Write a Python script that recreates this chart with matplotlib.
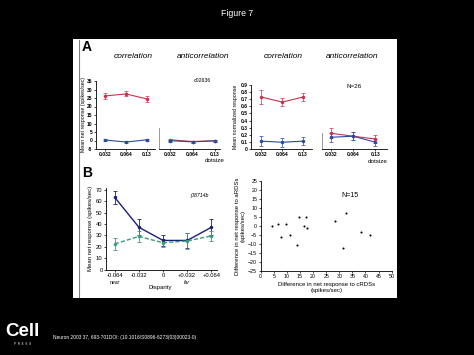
import matplotlib
matplotlib.use("Agg")
import matplotlib.pyplot as plt
from matplotlib.patches import Rectangle

plt.rcParams['font.family'] = ['Liberation Sans', 'DejaVu Sans']

W, H = 474, 355

# ---- data ----
dotsizes = ["0.032", "0.064", "0.13"]
# Panel A, single cell (c02636): mean net response (spikes/sec)
a_corr_red = [26.2, 27.4, 24.4]
a_corr_red_err = [2.0, 1.5, 1.8]
a_corr_blue = [0.3, -0.9, 0.4]
a_corr_blue_err = [0.5, 0.5, 0.5]
a_anti_red = [0.4, -0.6, -0.1]
a_anti_red_err = [0.7, 0.6, 0.5]
a_anti_blue = [-0.1, -0.8, -0.2]
a_anti_blue_err = [0.6, 0.6, 0.5]
# Panel A, population (N=26): mean normalized response
n_corr_red = [0.73, 0.66, 0.73]
n_corr_red_err = [0.10, 0.06, 0.06]
n_corr_blue = [0.11, 0.095, 0.11]
n_corr_blue_err = [0.07, 0.06, 0.06]
n_anti_red = [0.22, 0.18, 0.14]
n_anti_red_err = [0.07, 0.06, 0.05]
n_anti_blue = [0.165, 0.18, 0.095]
n_anti_blue_err = [0.06, 0.06, 0.05]
# Panel B left: disparity tuning (j08714b)
disparity = [-0.064, -0.032, 0.0, 0.032, 0.064]
disp_labels = ["-0.064", "-0.032", "0", "+0.032", "+0.064"]
b_corr = [63.2, 37.0, 25.5, 25.5, 37.0]
b_corr_err = [5.5, 7.0, 4.5, 6.5, 7.0]
b_anti = [22.5, 29.0, 23.5, 25.0, 29.5]
b_anti_err = [5.5, 4.5, 3.5, 7.0, 4.5]
# Panel B right: scatter (N=15)
diff_c = [4.2, 6.6, 7.6, 9.7, 11.1, 14.0, 14.5, 16.4, 17.4, 17.7, 28.5, 31.4, 32.6, 38.2, 41.7]
diff_a = [0.2, 0.9, -5.9, 1.1, -4.8, -10.6, 5.0, 0.2, 5.0, -1.1, 3.0, -12.4, 7.2, -3.3, -5.0]

RED = "#c8324e"
BLUE = "#2a4a9a"
NAVY = "#1c1f78"
GREEN = "#3a9a7c"
TICKFS = 3.6

fig = plt.figure(figsize=(W / 100, H / 100), dpi=100, facecolor="black")


def ax_px(x0, y0, x1, y1):
    return fig.add_axes([x0 / W, 1 - y1 / H, (x1 - x0) / W, (y1 - y0) / H])


def fig_text(x, y, s, **kw):
    fig.text(x / W, 1 - y / H, s, **kw)


# white panel (drawn in a background axes)
bg = fig.add_axes([0, 0, 1, 1], zorder=-10)
bg.set_xlim(0, W)
bg.set_ylim(H, 0)
bg.axis("off")
bg.add_patch(Rectangle((73, 39), 397 - 73, 298 - 39, facecolor="white", edgecolor="none"))
bg.plot([79.5, 79.5], [40, 297], color="#808080", lw=0.8)


def style(ax):
    ax.set_facecolor("none")
    for s in ["top", "right"]:
        ax.spines[s].set_visible(False)
    for s in ["left", "bottom"]:
        ax.spines[s].set_linewidth(0.6)
    ax.tick_params(labelsize=TICKFS, width=0.5, length=1.5, pad=1)


def eb(ax, x, y, e, color, ls="-", lw=0.8, ms=1.5):
    ax.errorbar(x, y, yerr=e, color=color, ls=ls, lw=lw, elinewidth=0.5, capsize=1.2,
                capthick=0.5, marker="o", ms=ms, mec=color)


# ---- Panel A left ----
xi = list(range(len(dotsizes)))
axc = ax_px(96, 81, 155, 149)
style(axc)
eb(axc, xi, a_corr_red, a_corr_red_err, RED)
eb(axc, xi, a_corr_blue, a_corr_blue_err, BLUE)
axc.set_xlim(-0.43, 2.38)
axc.set_ylim(-5, 35)
axc.set_yticks(range(-5, 36, 5))
axc.set_yticklabels([str(v) for v in range(-5, 36, 5)], fontweight="bold")
axc.set_xticks(xi, dotsizes, fontweight="bold")
axc.set_ylabel("Mean net response (spikes/sec)", fontsize=3.8, labelpad=1)

axa = ax_px(159, 81, 220, 149)
style(axa)
eb(axa, xi, a_anti_red, a_anti_red_err, RED)
eb(axa, xi, a_anti_blue, a_anti_blue_err, BLUE)
axa.set_xlim(-0.49, 2.22)
axa.set_ylim(-5, 35)
axa.set_yticks([])
axa.spines["left"].set_bounds(-5, 7.5)
axa.spines["left"].set_color("#888888")
axa.set_xticks(xi, dotsizes, fontweight="bold")

# ---- Panel A right ----
axnc = ax_px(251, 85, 312, 149)
style(axnc)
eb(axnc, xi, n_corr_red, n_corr_red_err, RED)
eb(axnc, xi, n_corr_blue, n_corr_blue_err, BLUE)
axnc.set_xlim(-0.5, 2.43)
axnc.set_ylim(0, 0.9)
axnc.set_yticks([0, 0.1, 0.2, 0.3, 0.4, 0.5, 0.6, 0.7, 0.8, 0.9])
axnc.set_yticklabels(["0", "0.1", "0.2", "0.3", "0.4", "0.5", "0.6", "0.7", "0.8", "0.9"], fontweight="bold")
axnc.set_xticks(xi, dotsizes, fontweight="bold")
axnc.set_ylabel("Mean normalized response", fontsize=3.8, labelpad=1.5)

axna = ax_px(322, 85, 387, 149)
style(axna)
eb(axna, xi, n_anti_red, n_anti_red_err, RED)
eb(axna, xi, n_anti_blue, n_anti_blue_err, BLUE)
axna.set_xlim(-0.42, 2.53)
axna.set_ylim(0, 0.9)
axna.set_yticks([])
axna.spines["left"].set_bounds(0, 0.22)
axna.spines["left"].set_color("#888888")
axna.set_xticks(xi, dotsizes, fontweight="bold")

# ---- Panel B left ----
axb = ax_px(106, 188, 217, 269.5)
style(axb)
axb.errorbar(disparity, b_corr, yerr=b_corr_err, color=NAVY, ls="-", lw=1.0, elinewidth=0.6,
             capsize=1.5, capthick=0.6, marker="o", ms=1.5)
axb.errorbar(disparity, b_anti, yerr=b_anti_err, color=GREEN, ls="--", lw=1.0, elinewidth=0.6,
             capsize=1.5, capthick=0.6, marker="o", ms=1.5, dashes=(3, 1.5))
axb.set_xlim(-0.0757, 0.0715)
axb.set_ylim(0, 71.5)
axb.set_yticks(range(0, 71, 10))
axb.set_xticks(disparity, disp_labels)
axb.tick_params(labelsize=4.2)
axb.set_ylabel("Mean net response (spikes/sec)", fontsize=4.3, labelpad=2)

# ---- Panel B right ----
axs = ax_px(260.7, 181, 391.7, 271)
style(axs)
axs.scatter(diff_c, diff_a, s=2.2, color="black", lw=0)
axs.set_xlim(0, 50)
axs.set_ylim(-25, 25)
axs.set_xticks(range(0, 51, 5))
axs.set_yticks(range(-25, 26, 5))
axs.tick_params(labelsize=3.8)
axs.set_xlabel("Difference in net response to cRDSs\n(spikes/sec)", fontsize=4.3, labelpad=2, linespacing=1.1)
axs.set_ylabel("Difference in net response to aRDSs\n(spikes/sec)", fontsize=4.3, labelpad=2, linespacing=1.1)

# ---- texts ----
fig_text(237, 13, "Figure 7", color="white", fontsize=6.3, ha="center", va="center")
fig_text(87, 47, "A", fontsize=10, fontweight="bold", ha="center", va="center")
fig_text(87, 173, "B", fontsize=10, fontweight="bold", ha="center", va="center")
for x, s in [(133, "correlation"), (203, "anticorrelation"), (283, "correlation"), (352, "anticorrelation")]:
    fig_text(x, 57, s, fontsize=6, style="italic", ha="center", va="center")
fig_text(202, 80, "c02636", fontsize=3.8, ha="center", va="center")
fig_text(354, 86, "N=26", fontsize=4.5, ha="center", va="center")
fig_text(215, 160, "dotsize", fontsize=4.5, ha="center", va="center")
fig_text(378, 161, "dotsize", fontsize=4.5, ha="center", va="center")
fig_text(200, 195, "j08714b", fontsize=3.8, ha="center", va="center", style="italic")
fig_text(115, 282, "near", fontsize=3.8, ha="center", va="center", style="italic")
fig_text(187, 282, "far", fontsize=3.8, ha="center", va="center", style="italic")
fig_text(160, 287, "Disparity", fontsize=4.3, ha="center", va="center")
fig_text(350, 195, "N=15", fontsize=5, ha="center", va="center")

# footer
fig_text(22.5, 332, "Cell", color="white", fontsize=13.5, fontweight="bold", ha="center", va="center")
fig_text(22.5, 344, "P  R  E  S  S", color="white", fontsize=2.2, ha="center", va="center")
fig_text(53, 338, "Neuron 2003 37, 693-701DOI: (10.1016/S0896-6273(03)00023-0)",
         color="white", fontsize=3.5, ha="left", va="center")

fig.savefig("out.png", dpi=100, facecolor="black")
